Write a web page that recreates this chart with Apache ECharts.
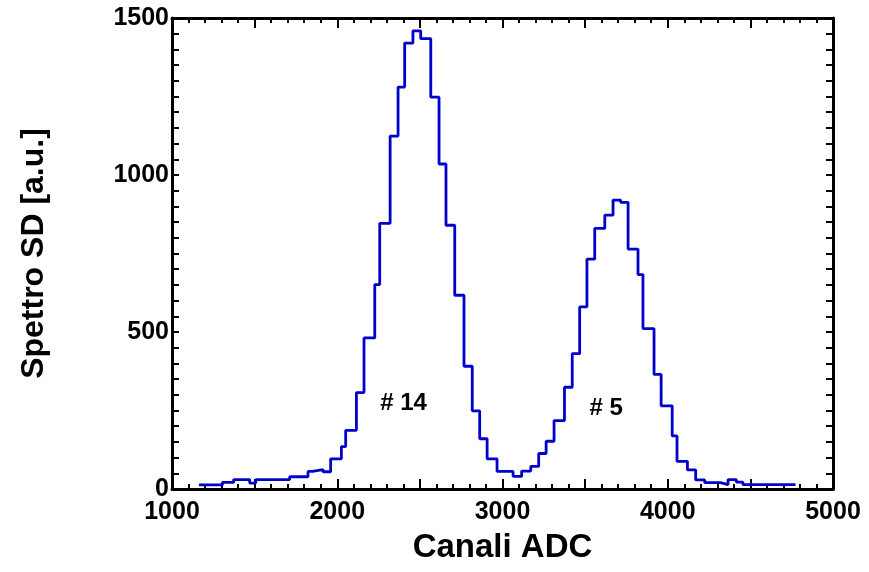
<!DOCTYPE html>
<html>
<head>
<meta charset="utf-8">
<script src="https://cdn.jsdelivr.net/npm/echarts@6/dist/echarts.min.js"></script>
<style>
  html, body { margin: 0; padding: 0; background: #ffffff; }
  #chart { width: 869px; height: 572px; }
</style>
</head>
<body>
<div id="chart"></div>
<script>
// Bin edges (ADC channels) and counts
var binEdges = [1163,1305,1373,1470,1507,1712,1823,1850,1914,1960,
                2025,2051,2116,2162,2227,2257,2320,2368,2408,2458,
                2505,2566,2616,2658,2711,2767,2817,2862,2907,2967,
                3064,3116,3171,3219,3264,3312,3375,3422,3467,3511,
                3558,3619,3669,3715,3760,3820,3850,3917,3960,4027,
                4056,4119,4169,4224,4319,4365,4415,4455,4773];
var binCounts = [13,21,30,19,30,39,56,62,55,96,
                 135,187,307,481,651,846,1124,1280,1420,1459,
                 1434,1248,1035,840,617,391,249,160,96,56,
                 40,57,72,113,152,218,324,431,580,732,
                 830,872,920,913,764,683,511,365,265,169,
                 88,61,29,20,14,30,22,14];
var xTicks = [1000, 2000, 3000, 4000, 5000];
var yTicks = [0, 500, 1000, 1500];
var annotations = [
  { text: '# 14', x: 2401, y: 274 },
  { text: '# 5',  x: 3628, y: 257 }
];

var stepData = binEdges.map(function (e, i) {
  return [e, binCounts[Math.min(i, binCounts.length - 1)]];
});

var FONT = 'Liberation Sans';
var black = '#000000';

function xAxisCfg(pos, showLabels) {
  return {
    type: 'value', position: pos, min: 1000, max: 5000, interval: 500,
    axisLine: { show: true, onZero: false, lineStyle: { color: black, width: 3 } },
    axisTick: { show: true, inside: true, length: 10, lineStyle: { color: black, width: 2 } },
    minorTick: { show: true, splitNumber: 5, length: 5, lineStyle: { color: black, width: 2 } },
    splitLine: { show: false },
    axisLabel: {
      show: showLabels, margin: 11, fontFamily: FONT, fontWeight: 'bold', fontSize: 25, color: black,
      formatter: function (v) { return xTicks.indexOf(v) >= 0 ? String(v) : ''; }
    },
    name: showLabels ? 'Canali ADC' : '', nameLocation: 'middle', nameGap: 42,
    nameTextStyle: { fontFamily: FONT, fontWeight: 'bold', fontSize: 33, color: black }
  };
}
function yAxisCfg(pos, showLabels) {
  return {
    type: 'value', position: pos, min: 0, max: 1500, interval: 500,
    axisLine: { show: true, onZero: false, lineStyle: { color: black, width: 3 } },
    axisTick: { show: true, inside: true, length: 7, lineStyle: { color: black, width: 2 } },
    minorTick: { show: true, splitNumber: 10, length: 7, lineStyle: { color: black, width: 2 } },
    splitLine: { show: false },
    axisLabel: {
      show: showLabels, margin: 3, fontFamily: FONT, fontWeight: 'bold', fontSize: 25, color: black,
      formatter: function (v) { return yTicks.indexOf(v) >= 0 ? String(v) : ''; }
    },
    name: showLabels ? 'Spettro SD [a.u.]' : '', nameLocation: 'middle', nameGap: 122,
    nameTextStyle: { fontFamily: FONT, fontWeight: 'bold', fontSize: 32, color: black }
  };
}

var chart = echarts.init(document.getElementById('chart'), null, { renderer: 'canvas' });
chart.setOption({
  backgroundColor: '#ffffff',
  animation: false,
  grid: { left: 172, right: 36, top: 18, bottom: 83, containLabel: false },
  xAxis: [xAxisCfg('bottom', true), xAxisCfg('top', false)],
  yAxis: [yAxisCfg('left', true), yAxisCfg('right', false)],
  series: [{
    type: 'line',
    xAxisIndex: 0, yAxisIndex: 0,
    step: 'end',
    data: stepData,
    showSymbol: false,
    symbol: 'none',
    lineStyle: { color: '#0000cc', width: 2.8 },
    markPoint: {
      symbol: 'circle', symbolSize: 0,
      label: { show: true, position: 'inside', fontFamily: FONT, fontWeight: 'bold', fontSize: 24, color: black,
               formatter: function (p) { return p.name; } },
      data: annotations.map(function (a) { return { name: a.text, coord: [a.x, a.y], value: a.text }; })
    }
  }]
});
</script>
</body>
</html>
